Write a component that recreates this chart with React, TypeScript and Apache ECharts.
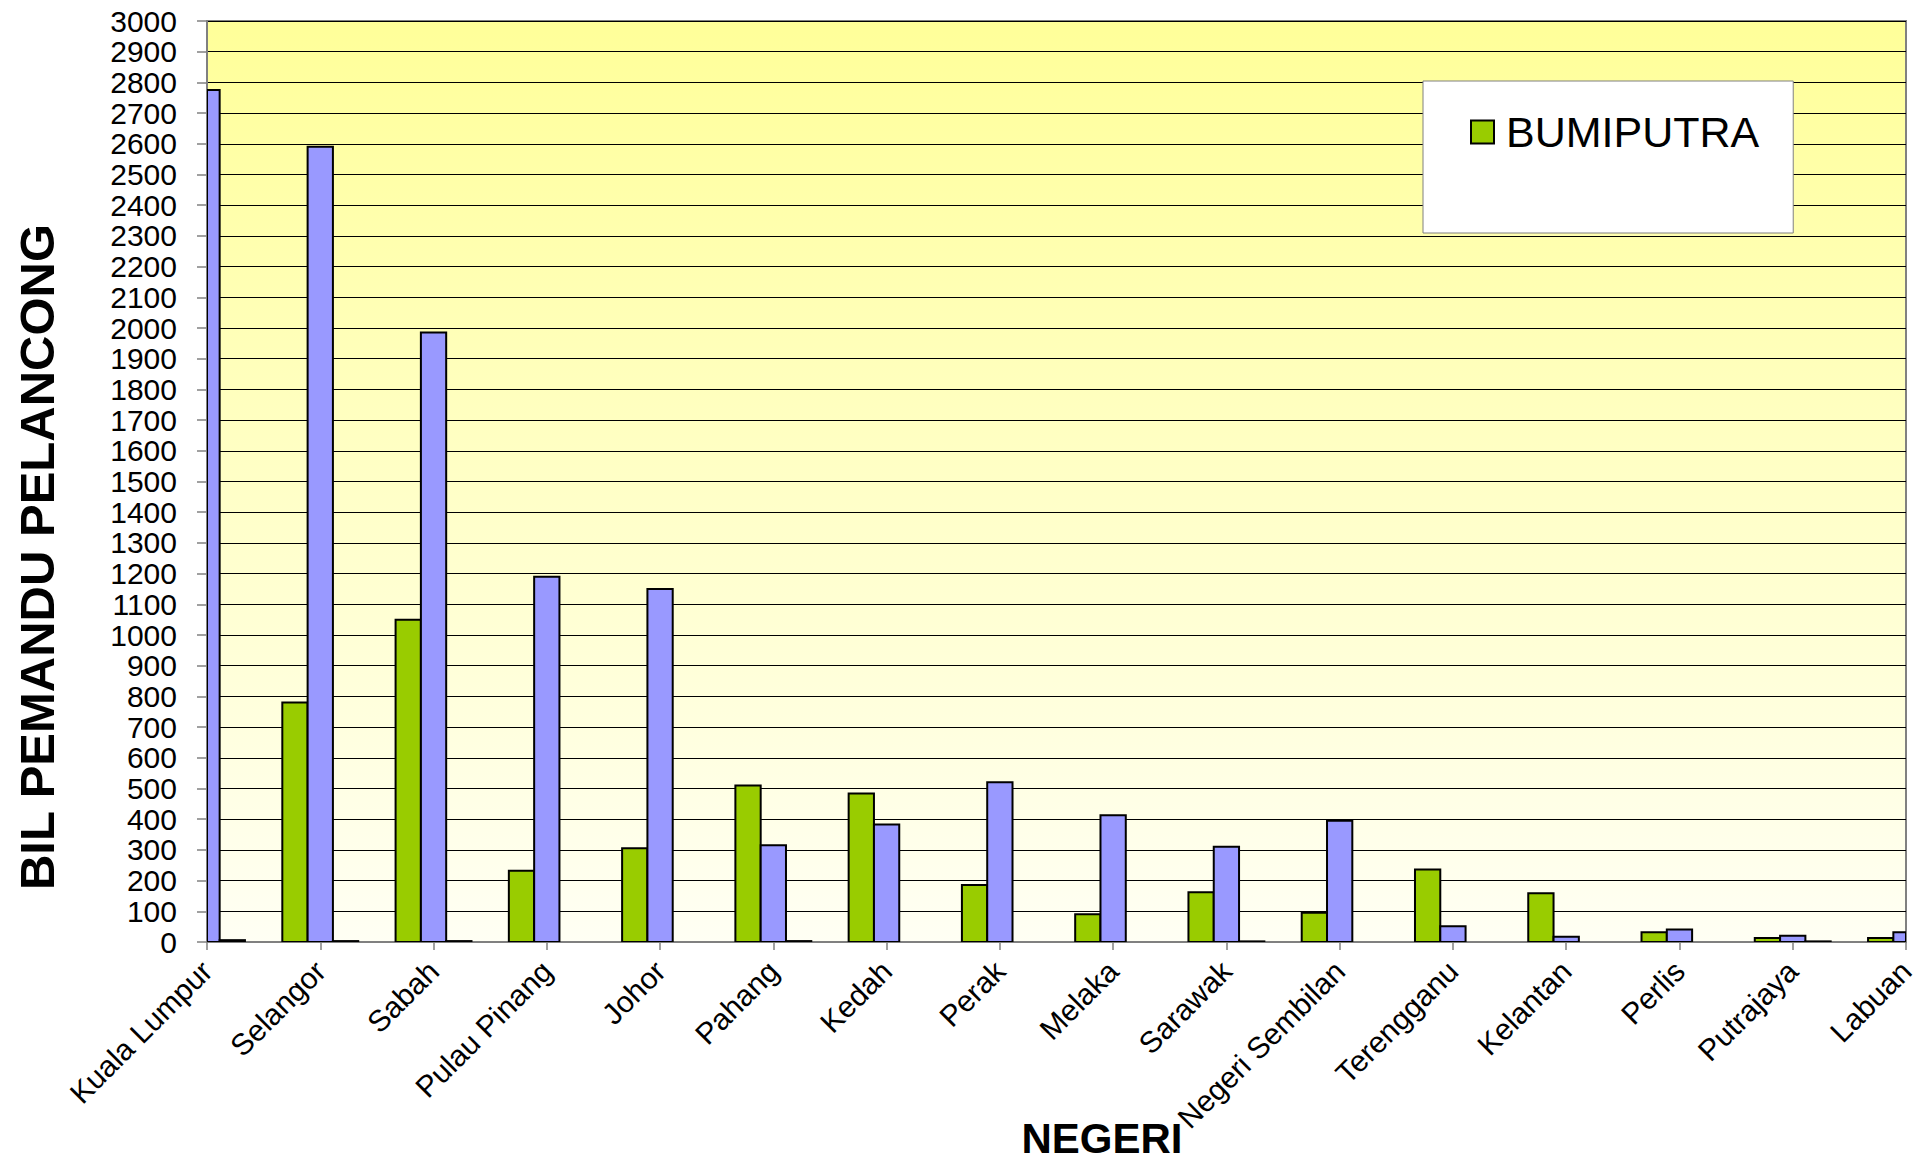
import React, { useEffect, useRef } from "react";
import * as echarts from "echarts";

const categories = [
  "Kuala Lumpur", "Selangor", "Sabah", "Pulau Pinang", "Johor", "Pahang", "Kedah", "Perak",
  "Melaka", "Sarawak", "Negeri Sembilan", "Terengganu", "Kelantan", "Perlis", "Putrajaya", "Labuan",
];
const bumiputra = [850, 780, 1050, 232, 305, 510, 484, 186, 90, 162, 95, 236, 159, 32, 13, 13];
const bukanBumiputra = [2775, 2590, 1985, 1190, 1150, 315, 383, 520, 413, 310, 395, 51, 17, 41, 20, 32];
const lainLain: (number | null)[] = [6, 3, 3, null, null, 3, null, null, null, 2, null, null, null, null, 2, 2];
const yTicks = { min: 0, max: 3000, interval: 100 };

const FONT = "'Liberation Sans', Arial, sans-serif";
const BAR_W = 25.3;

function barSeries(name: string, values: (number | null)[], slot: number, color: string) {
  return {
    type: "custom",
    name,
    clip: true,
    data: values.map((v, i) => [i, v == null ? "-" : v]),
    encode: { x: 0, y: 1 },
    itemStyle: { color, borderColor: "#000", borderWidth: 2 },
    renderItem: (params: any, api: any) => {
      const v = api.value(1);
      if (v === null || v === undefined || isNaN(v)) return null;
      const idx = api.value(0);
      const top = api.coord([idx, v]);
      const base = api.coord([idx, 0]);
      const x = top[0] - 1.5 * BAR_W + slot * BAR_W;
      const cs = params.coordSys;
      const rect = echarts.graphic.clipRectByRect(
        { x, y: top[1], width: BAR_W, height: base[1] - top[1] },
        { x: cs.x, y: cs.y, width: cs.width, height: cs.height }
      );
      if (!rect) return null;
      return {
        type: "rect",
        shape: rect,
        style: { fill: color, stroke: "#000", lineWidth: 2 },
      };
    },
  };
}

export default function App() {
  const ref = useRef<HTMLDivElement>(null);
  useEffect(() => {
    if (!ref.current) return;
    const chart = echarts.init(ref.current, null, { renderer: "svg" });
    chart.setOption({
      animation: false,
      backgroundColor: "#ffffff",
      textStyle: { fontFamily: FONT },
      grid: {
        left: 207,
        top: 21,
        right: 15,
        bottom: 220,
        show: true,
        borderColor: "#808080",
        borderWidth: 2,
        backgroundColor: new echarts.graphic.LinearGradient(0, 0, 0, 1, [
          { offset: 0, color: "#FFFF99" },
          { offset: 1, color: "#FFFFF4" },
        ]),
      },
      legend: {
        data: [
          {
            name: "BUMIPUTRA",
            icon: "rect",
            itemStyle: { color: "#99CC00", borderColor: "#000", borderWidth: 2 },
          },
        ],
        left: 1423,
        top: 81,
        orient: "vertical",
        backgroundColor: "#ffffff",
        borderColor: "#808080",
        borderWidth: 1,
        padding: [26, 34, 76, 47],
        itemWidth: 23,
        itemHeight: 23,
        z: 20,
        textStyle: {
          fontFamily: FONT,
          fontSize: 43,
          color: "#000",
          lineHeight: 50,
          padding: [0, 0, 0, 7],
        },
      },
      xAxis: {
        type: "category",
        data: categories,
        boundaryGap: false,
        axisLine: { show: true, lineStyle: { color: "#808080", width: 2 } },
        axisTick: { show: true, length: 8, lineStyle: { color: "#808080", width: 1.5 } },
        axisLabel: {
          interval: 0,
          rotate: 45,
          margin: 24,
          fontFamily: FONT,
          fontSize: 30,
          color: "#000",
        },
        splitLine: { show: false },
      },
      yAxis: {
        type: "value",
        min: yTicks.min,
        max: yTicks.max,
        interval: yTicks.interval,
        axisLine: { show: true, lineStyle: { color: "#808080", width: 2 } },
        axisTick: { show: true, length: 10, lineStyle: { color: "#808080", width: 1.5 } },
        axisLabel: {
          margin: 30,
          fontFamily: FONT,
          fontSize: 30,
          color: "#000",
          formatter: (v: number) => String(v),
        },
        splitLine: { show: true, lineStyle: { color: "#000", width: 1 } },
      },
      series: [
        barSeries("BUMIPUTRA", bumiputra, 0, "#99CC00"),
        barSeries("BUKAN BUMIPUTRA", bukanBumiputra, 1, "#9999FF"),
        barSeries("LAIN-LAIN", lainLain, 2, "#993366"),
      ],
      graphic: [
        {
          type: "text",
          x: 37,
          y: 557,
          rotation: Math.PI / 2,
          style: {
            text: "BIL PEMANDU PELANCONG",
            font: `bold 49px ${FONT}`,
            fill: "#000",
            textAlign: "center",
            textVerticalAlign: "middle",
          },
        },
        {
          type: "text",
          x: 1102,
          y: 1138,
          style: {
            text: "NEGERI",
            font: `bold 42px ${FONT}`,
            fill: "#000",
            textAlign: "center",
            textVerticalAlign: "middle",
          },
        },
      ],
    });
    return () => chart.dispose();
  }, []);
  return (
    <div
      ref={ref}
      style={{ position: "absolute", left: 0, top: 0, width: 1921, height: 1162 }}
    />
  );
}
